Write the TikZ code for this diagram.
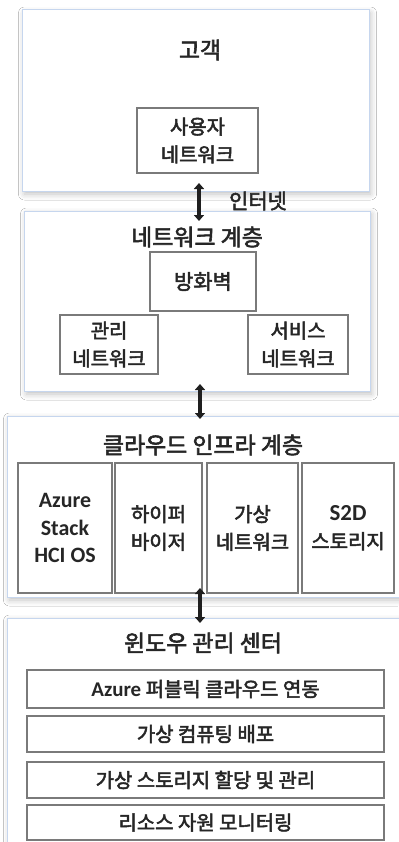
\documentclass[tikz,border=0pt]{standalone}
\usepackage{fontspec}
\setmainfont{Noto Sans CJK KR}[FakeBold=2.5]
\newfontfamily\latfont{Carlito}
\usetikzlibrary{arrows.meta,shadows.blur}
\definecolor{outerline}{HTML}{C6D6EE}
\definecolor{innerline}{HTML}{7A7A7A}
\definecolor{txt}{HTML}{262626}
\tikzset{
 layer/.style={draw=outerline, line width=1bp, fill=white,
   blur shadow={shadow xshift=1.5bp, shadow yshift=-3bp, shadow blur radius=6bp, shadow opacity=25}},
 title/.style={text=txt, font=\fontsize{23}{27}\selectfont, inner sep=0},
 compbox/.style={draw=innerline, line width=2bp, fill=white, text=txt,
   font=\fontsize{20}{28}\selectfont, align=center, inner sep=0},
 link/.style={{Triangle[width=10bp,length=6bp]}-{Triangle[width=10bp,length=6bp]}, line width=3.5bp, black!88},
}
\newcommand\AzB[1]{{\latfont\bfseries #1}}
\begin{document}
\begin{tikzpicture}[x=1bp,y=-1bp]
\useasboundingbox[fill=white] (0,0) rectangle (398,842);
% layers
\node[layer, minimum width=346bp, minimum height=181bp] (customer) at (196,100.5) {};
\node[layer, minimum width=345bp, minimum height=180bp] (netlayer) at (197.5,301) {};
\node[layer, minimum width=400bp, minimum height=181bp] (cloud) at (208,506.5) {};
\node[layer, minimum width=400bp, minimum height=240bp] (wac) at (208,738) {};
% titles
\node[title] (t1) at (200,50) {고객};
\node[title] (t2) at (197,237) {네트워크 계층};
\node[title] (t3) at (203,445) {클라우드 인프라 계층};
\node[title] (t4) at (203,643) {윈도우 관리 센터};
% customer
\node[compbox, minimum width=121bp, minimum height=65bp] (usernet) at (197.5,140.5) {사용자\\네트워크};
% network layer
\node[compbox, minimum width=106bp, minimum height=59bp, font=\fontsize{21}{28}\selectfont] (firewall) at (203,281.5) {방화벽};
\node[compbox, minimum width=98bp, minimum height=59bp] (mgmtnet) at (109,344.5) {관리\\네트워크};
\node[compbox, minimum width=100bp, minimum height=59bp] (svcnet) at (298,344.5) {서비스\\네트워크};
% cloud infra
\node[compbox, minimum width=94bp, minimum height=130bp] (hci) at (65,528) {\AzB{\fontsize{22}{27.5}\selectfont Azure}\\\AzB{\fontsize{22}{27.5}\selectfont Stack}\\\AzB{\fontsize{22}{27.5}\selectfont HCI OS}};
\node[compbox, minimum width=87bp, minimum height=130bp] (hyperv) at (158.5,528) {하이퍼\\바이저};
\node[compbox, minimum width=91bp, minimum height=130bp] (vnet) at (252.5,528) {가상\\네트워크};
\node[compbox, minimum width=92bp, minimum height=130bp] (s2d) at (348,528) {\AzB{\fontsize{23}{28}\selectfont S2D}\\스토리지};
% windows admin center
\node[compbox, minimum width=357bp, minimum height=38bp] (azpub) at (205.5,689) {\AzB{\fontsize{21}{28}\selectfont Azure} 퍼블릭 클라우드 연동};
\node[compbox, minimum width=357bp, minimum height=36bp] (vcomp) at (205.5,734) {가상 컴퓨팅 배포};
\node[compbox, minimum width=357bp, minimum height=36bp] (vstor) at (205.5,780) {가상 스토리지 할당 및 관리};
\node[compbox, minimum width=357bp, minimum height=35bp] (monit) at (205.5,822.5) {리소스 자원 모니터링};
% connectors
\coordinate (a1s) at (199,183);
\coordinate (a1e) at (199,221);
\coordinate (a2s) at (200,384);
\coordinate (a2e) at (200,419);
\coordinate (a3s) at (200,588);
\coordinate (a3e) at (200,623);
\draw[link] (a1s) -- (a1e);
\draw[link] (a2s) -- (a2e);
\draw[link] (a3s) -- (a3e);
\node[text=txt, font=\fontsize{21}{25}\selectfont, inner sep=0] (internet) at (258,201) {인터넷};
\end{tikzpicture}
\end{document}
